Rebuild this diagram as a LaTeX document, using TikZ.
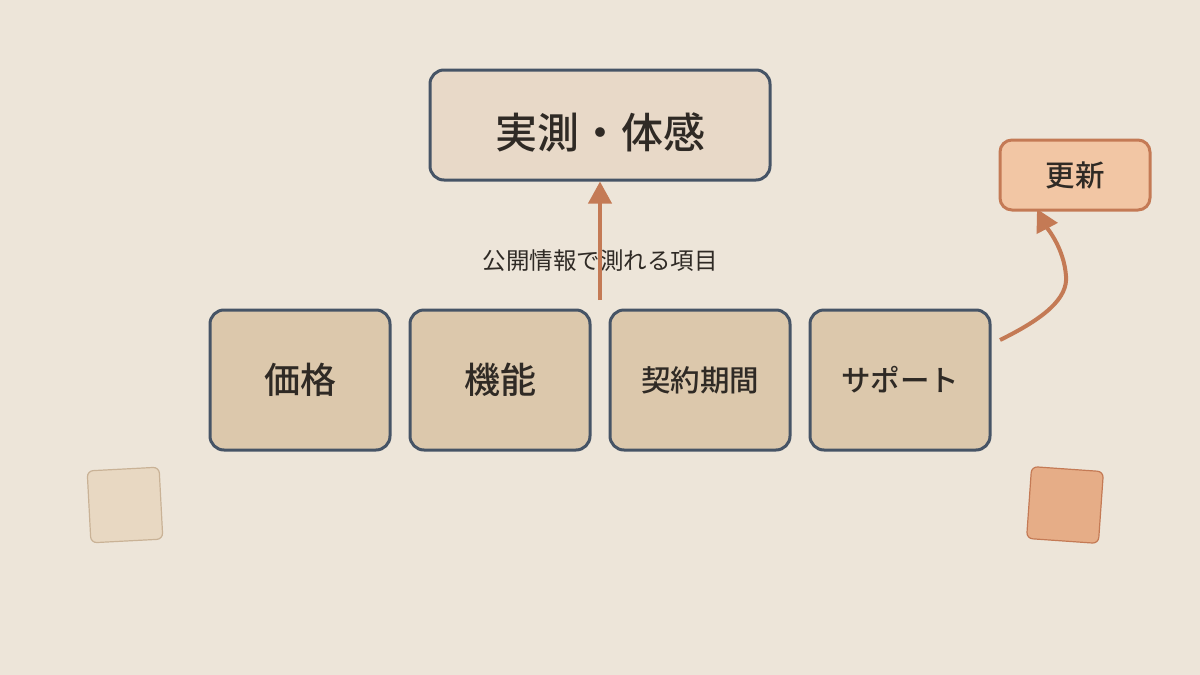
\documentclass[tikz,border=0pt]{standalone}
\usepackage{fontspec}
\setmainfont{Noto Sans CJK JP}[UprightFont=* Medium]
\newfontfamily\lightcjk{Noto Sans CJK JP}
\usetikzlibrary{arrows.meta}
\definecolor{bg}{HTML}{EDE5D9}
\definecolor{topfill}{HTML}{E8D9C8}
\definecolor{boxfill}{HTML}{DCC8AC}
\definecolor{slate}{HTML}{465466}
\definecolor{accent}{HTML}{C47A55}
\definecolor{updfill}{HTML}{F2C6A4}
\definecolor{txt}{HTML}{2F2A25}
\definecolor{sqa}{HTML}{E8D8C2}
\definecolor{sqaline}{HTML}{C9B296}
\definecolor{sqb}{HTML}{E6AD87}
\tikzset{
  box/.style={draw=slate, line width=3pt, rounded corners=14pt, text=txt, inner sep=0pt},
  topbox/.style={box, fill=topfill, minimum width=340pt, minimum height=110pt, font=\fontsize{42}{48}\selectfont, text height=51pt, text depth=5pt},
  itembox/.style={box, fill=boxfill, minimum width=180pt, minimum height=140pt},
  bigf/.style={font=\fontsize{36}{42}\selectfont},
  midf/.style={font=\fontsize{29.5}{34}\selectfont},
  updbox/.style={draw=accent, fill=updfill, line width=3pt, rounded corners=12pt, minimum width=150pt, minimum height=70pt, text=txt, font=\fontsize{29.5}{34}\selectfont, inner sep=0pt},
  conn/.style={draw=accent, line width=4pt, -{Triangle[length=22pt,width=23pt]}},
  deco/.style={rounded corners=6pt, minimum width=72pt, minimum height=72pt, line width=1.2pt, inner sep=0pt},
}
\begin{document}
\begin{tikzpicture}[x=1pt,y=-1pt]
\fill[bg] (0,0) rectangle (1200,675);
\useasboundingbox (0,0) rectangle (1200,675);
\node[deco, fill=sqa, draw=sqaline, rotate=3] (sq1) at (125,505) {};
\node[deco, fill=sqb, draw=accent, rotate=-4] (sq2) at (1065,505) {};
\node[topbox] (top) at (600,125) {実測・体感};
\node[itembox, bigf] (a) at (300,380) {価格};
\node[itembox, bigf] (b) at (500,380) {機能};
\node[itembox, midf] (c) at (700,380) {契約期間};
\node[itembox, midf] (d) at (900,380) {サポート};
\node[updbox] (upd) at (1075,175) {更新};
\node[text=txt, font=\lightcjk\fontsize{23.5}{28}\selectfont] (lbl) at (600,261) {公開情報で測れる項目};
\coordinate (s) at (600,300);
\coordinate (e) at (1000,340);
\coordinate (m) at (1066,276);
\coordinate (t) at (1037,209);
\draw[conn] (s) -- (top.south);
\draw[conn] (e) .. controls (1045,318) and (1068,298) .. (m) .. controls (1064,248) and (1047,228) .. (t);
\end{tikzpicture}
\end{document}
